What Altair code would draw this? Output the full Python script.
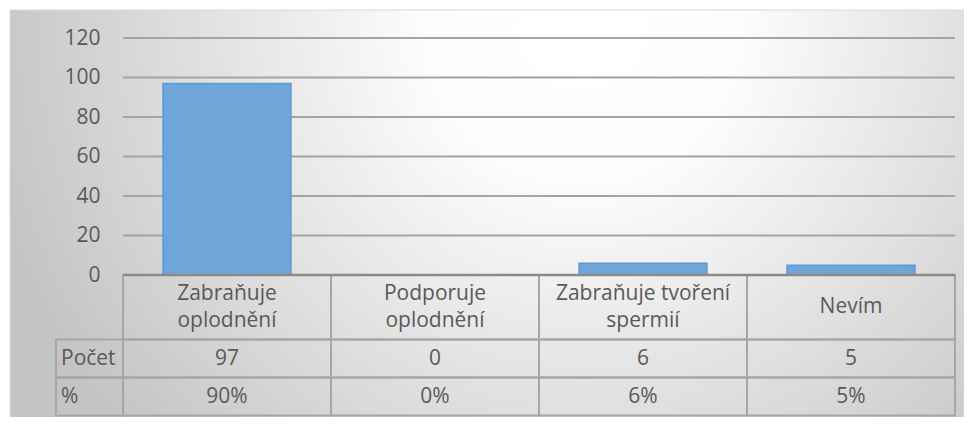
import altair as alt
import pandas as pd

# ---- data ----
categories = ["Zabraňuje\noplodnění", "Podporuje\noplodnění", "Zabraňuje tvoření\nspermií", "Nevím"]
counts = [97, 0, 6, 5]
percents = [90, 0, 6, 5]
y_ticks = [0, 20, 40, 60, 80, 100, 120]
row_labels = ["Počet", "%"]

# ---- layout / style ----
PLOT_W, PLOT_H = 832, 237
FONT = "Open Sans"
FS = 21
TEXT = "#595959"
GRID = "#a4a4a4"
CELL = "#a6a6a6"
# table rows in "row units" (1 unit = 38 px): header 0..1.7, Počet 1.7..2.7, % 2.7..3.7
ROWS = [("header", 0.0, 1.7), ("Počet", 1.7, 2.7), ("%", 2.7, 3.7)]
LINE_UNITS = 0.71  # line height of header text, in row units

yscale = alt.Scale(domain=[0, 120], nice=False, zero=True)
tscale = alt.Scale(domain=[0, 3.7], range=[PLOT_H, PLOT_H + 140.6], nice=False, zero=False)
xscale = alt.Scale(domain=categories, paddingInner=0, paddingOuter=0)

bars_df = pd.DataFrame({"cat": categories, "count": counts})

cell_rows, text_rows = [], []
for c, n, p in zip(categories, counts, percents):
    texts = {"header": c, "Počet": str(n), "%": f"{p}%"}
    for name, top, bot in ROWS:
        mid = (top + bot) / 2
        cell_rows.append({"cat": c, "row": name, "top": top, "bottom": bot})
        lines = texts[name].split("\n")
        k = len(lines)
        for i, ln in enumerate(lines):
            text_rows.append({"cat": c, "pos": mid + (i - (k - 1) / 2) * LINE_UNITS, "text": ln})
cells_df = pd.DataFrame(cell_rows)
texts_df = pd.DataFrame(text_rows)

label_df = pd.DataFrame([
    {"text": name, "top": top, "bottom": bot, "mid": (top + bot) / 2}
    for name, top, bot in ROWS if name in row_labels
])

X = alt.X("cat:N", sort=categories, scale=xscale, axis=None)

grad = {
    "gradient": "radial",
    "x1": 0.6, "y1": 0.3, "r1": 0,
    "x2": 0.6, "y2": 0.3, "r2": 0.64,
    "stops": [
        {"offset": 0.0, "color": "#ffffff"},
        {"offset": 0.25, "color": "#fdfdfd"},
        {"offset": 1.0, "color": "#c4c4c4"},
    ],
}

bg = alt.Chart(alt.Data(values=[{"a": 1}])).mark_rect(
    fill=grad, stroke="#d9d9d9", strokeWidth=1
).encode(x=alt.value(-113), x2=alt.value(841), y=alt.value(-28), y2=alt.value(380))

grid = alt.Chart(pd.DataFrame({"tick": y_ticks[1:]})).mark_rule(
    color=GRID, strokeWidth=2
).encode(y=alt.Y("tick:Q", scale=yscale, axis=None))

bars = alt.Chart(bars_df).mark_bar(
    width={"band": 0.615}, fill="#6FA6DA", stroke="#5B9BD5", strokeWidth=1.5
).encode(
    x=X,
    y=alt.Y("count:Q", scale=yscale,
            axis=alt.Axis(values=y_ticks, grid=False, domain=False, ticks=False,
                          labelPadding=23, labelFont=FONT, labelFontSize=FS,
                          labelColor=TEXT, title=None, zindex=1)),
)

cells = alt.Chart(cells_df).mark_rect(
    fillOpacity=0, stroke=CELL, strokeWidth=2
).encode(
    x=X,
    y=alt.Y("top:Q", scale=tscale, axis=None),
    y2="bottom:Q",
)

label_cells = alt.Chart(label_df).mark_rect(
    fillOpacity=0, stroke=CELL, strokeWidth=2
).encode(
    x=alt.value(-67), x2=alt.value(0),
    y=alt.Y("top:Q", scale=tscale, axis=None),
    y2="bottom:Q",
)

zero = alt.Chart(alt.Data(values=[{"a": 1}])).mark_rule(
    color="#8a8a8a", strokeWidth=2.5
).encode(y=alt.Y(datum=0, scale=yscale, axis=None))

cell_text = alt.Chart(texts_df).mark_text(
    font=FONT, fontSize=FS, color=TEXT, baseline="middle"
).encode(
    x=X,
    y=alt.Y("pos:Q", scale=tscale, axis=None),
    text="text:N",
)

label_text = alt.Chart(label_df).mark_text(
    font=FONT, fontSize=FS, color=TEXT, align="left", baseline="middle"
).encode(
    x=alt.value(-62),
    y=alt.Y("mid:Q", scale=tscale, axis=None),
    text="text:N",
)

chart = alt.layer(
    bg, grid, bars, cells, label_cells, zero, cell_text, label_text
).resolve_scale(y="independent").properties(
    width=PLOT_W, height=PLOT_H,
    padding={"left": 115, "top": 30, "right": 9, "bottom": 142},
    autosize=alt.AutoSizeParams(type="none"),
).configure_view(stroke=None)

chart.save("out.html", embed_options={"renderer": "svg", "actions": False})
